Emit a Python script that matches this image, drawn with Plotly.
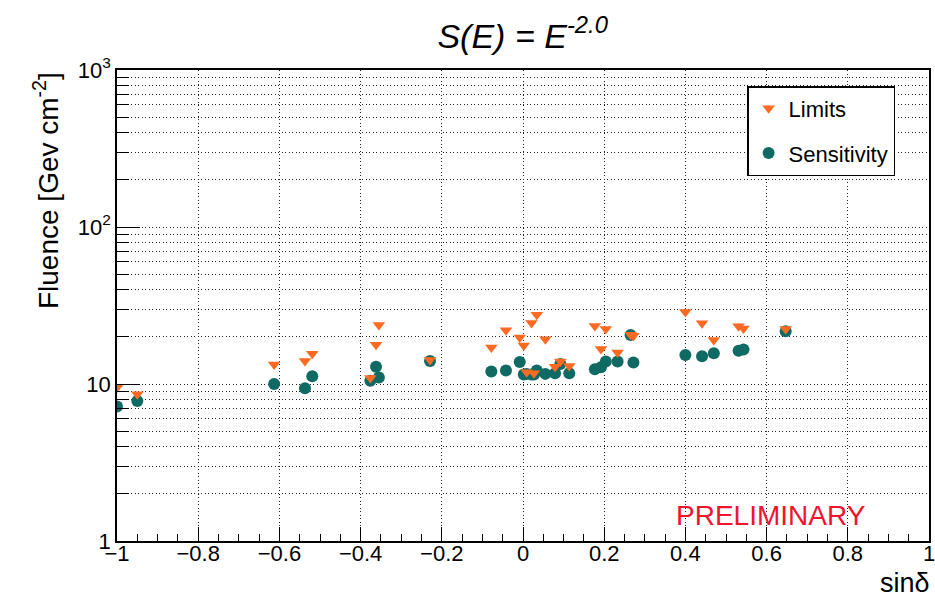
import plotly.graph_objects as go

# Data
sin_dec = [-1.000, -0.950, -0.613, -0.537, -0.519, -0.376, -0.362, -0.355, -0.229,
           -0.078, -0.042, -0.008, 0.002, 0.009, 0.021, 0.027, 0.034, 0.055, 0.079,
           0.092, 0.114, 0.177, 0.192, 0.204, 0.233, 0.265, 0.272, 0.400, 0.441,
           0.470, 0.531, 0.543, 0.647]
limits = [9.5, 8.6, 13.3, 14.0, 15.6, 10.9, 17.8, 23.8, 14.2,
          17.1, 22.0, 19.8, 17.6, 11.9, 24.5, 11.7, 27.6, 19.3, 12.9,
          13.9, 13.0, 23.4, 16.7, 22.4, 15.9, 20.6, 20.3, 28.8, 24.4,
          19.1, 23.3, 22.6, 22.4]
sensitivity = [7.2, 7.8, 10.0, 9.4, 11.2, 10.5, 12.9, 11.0, 14.0,
               12.0, 12.2, 13.8, 11.5, 11.6, 11.5, 11.5, 12.2, 11.6, 11.7,
               13.4, 11.7, 12.4, 12.8, 13.9, 13.9, 20.5, 13.7, 15.3, 15.0,
               15.7, 16.3, 16.6, 21.7]

x_tickvals = [-1, -0.8, -0.6, -0.4, -0.2, 0, 0.2, 0.4, 0.6, 0.8, 1]
x_ticktext = ["\u22121", "\u22120.8", "\u22120.6", "\u22120.4", "\u22120.2", "0",
              "0.2", "0.4", "0.6", "0.8", "1"]
y_tickvals = [1, 10, 100, 1000]
y_ticktext = ["1", "10", "10<sup>2</sup>", "10<sup>3</sup>"]
y_minorvals = [m * 10 ** e for e in range(3) for m in range(2, 10)]

ORANGE = "#FF6A22"
TEAL = "#0F6A64"
FONT = "Liberation Sans"
GRIDC = "#222222"
GRIDDASH = "1px,2.5px"

fig = go.Figure()
fig.add_trace(go.Scatter(
    x=sin_dec, y=sensitivity, mode="markers", name="Sensitivity",
    legendgroup="s", legendrank=2,
    marker=dict(symbol="circle", size=12, color=TEAL)))
fig.add_trace(go.Scatter(
    x=sin_dec, y=limits, mode="markers", name="Limits",
    legendgroup="l", legendrank=1,
    marker=dict(symbol="triangle-down", size=11, color=ORANGE)))

grid = dict(showgrid=True, gridcolor=GRIDC, griddash=GRIDDASH, gridwidth=1)

fig.update_layout(
    width=935, height=596,
    margin=dict(l=117, r=4, t=70, b=55),
    paper_bgcolor="white", plot_bgcolor="white",
    font=dict(family=FONT, color="black"),
    title=dict(text="<i>S(E) = E<sup>-2.0</sup></i>", x=0.559, xanchor="center",
               y=0.94, yanchor="middle", font=dict(size=34, family=FONT)),
    showlegend=True,
    legend=dict(x=0.776, y=0.966, xanchor="left", yanchor="top",
                bgcolor="white", bordercolor="black", borderwidth=1.5,
                font=dict(size=22, family=FONT), traceorder="grouped",
                tracegroupgap=13, itemwidth=30),
    xaxis=dict(range=[-1, 1], tickmode="array", tickvals=x_tickvals, ticktext=x_ticktext,
               ticks="inside", ticklen=14, tickwidth=1, tickcolor="black",
               showline=True, linecolor="black", linewidth=1.5, mirror=True,
               zeroline=False, tickfont=dict(size=22, family=FONT),
               ticklabelstandoff=-8,
               minor=dict(dtick=0.05, tick0=0, ticks="inside", ticklen=7,
                          tickcolor="black", showgrid=False),
               **grid),
    yaxis=dict(type="log", range=[0, 3], tickmode="array", tickvals=y_tickvals,
               ticktext=y_ticktext, ticks="inside", ticklen=23, tickwidth=1,
               tickcolor="black", showline=True, linecolor="black", linewidth=1.5,
               mirror=True, zeroline=False, tickfont=dict(size=22, family=FONT),
               minor=dict(tickmode="array", tickvals=y_minorvals, ticks="inside",
                          ticklen=12, tickcolor="black", showgrid=True,
                          gridcolor=GRIDC, griddash=GRIDDASH, gridwidth=1),
               **grid),
    annotations=[
        dict(text="Fluence [Gev cm<sup>-2</sup>]", xref="paper", yref="paper",
             x=-0.088, y=1.0, xanchor="center", yanchor="top", textangle=-90,
             showarrow=False, font=dict(size=28, family=FONT)),
        dict(text="1", xref="x", yref="paper", x=1, y=-0.026,
             xanchor="center", yanchor="middle", showarrow=False,
             font=dict(size=22, family=FONT)),
        dict(text="sin\u03b4", xref="paper", yref="paper", x=1.004, y=-0.089,
             xanchor="right", yanchor="middle", showarrow=False,
             font=dict(size=27, family=FONT)),
        dict(text="PRELIMINARY", xref="paper", yref="paper", x=0.805, y=0.055,
             xanchor="center", yanchor="middle", showarrow=False,
             font=dict(size=28, family=FONT, color="#F2142F")),
    ],
)

fig.write_html("out.html")
